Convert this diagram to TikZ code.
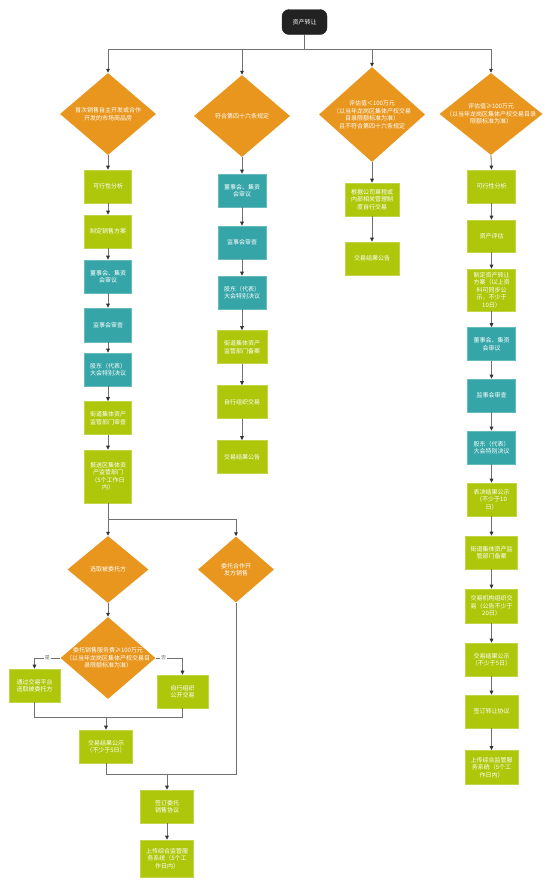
\documentclass[tikz,border=0pt]{standalone}
\usepackage{fontspec}
\setmainfont{Noto Sans CJK SC}
\usetikzlibrary{shapes.geometric,arrows.meta}
\definecolor{org}{HTML}{E8961E}
\definecolor{lim}{HTML}{AEC70A}
\definecolor{tea}{HTML}{35A5A8}
\definecolor{blk}{HTML}{222222}
\definecolor{lnc}{HTML}{707070}
\definecolor{ahc}{HTML}{333333}
\begin{document}
\begin{tikzpicture}[x=1pt,y=-1pt,font=\fontsize{6}{7.5}\selectfont,
  base/.style={rectangle,text=white,align=center,inner sep=1pt,line width=0.6pt,minimum width=48,minimum height=33},
  lbox/.style={base,fill=lim,draw=lim!75!white},
  tbox/.style={base,fill=tea,draw=tea!75!white},
  dia/.style={diamond,fill=org,inner sep=0pt},
  dtext/.style={text=white,align=center,inner sep=0pt},
  lnk/.style={draw=lnc,line width=0.8pt},
  arr/.style={lnk,-{Triangle[length=4pt,width=3.6pt,color=ahc]}},
  yn/.style={fill=white,text=lnc,inner sep=0.8pt,font=\fontsize{5}{6}\selectfont}]
\useasboundingbox[fill=white] (0,0) rectangle (554,887);

% top
\node[rectangle,rounded corners=7pt,fill=blk,draw=blk,text=white,minimum width=45,minimum height=25] (top) at (304.5,22) {资产转让};
\coordinate (bus) at (0,49);

% diamonds row 1
\node[dia,minimum width=96,minimum height=82,label={[dtext]center:{首次销售自主开发或合作\\开发的市场商品房}}] (d1) at (108,114) {};
\node[dia,minimum width=96,minimum height=82,label={[dtext]center:{符合第四十六条规定}}] (d2) at (242,116) {};
\node[dia,minimum width=106,minimum height=95,label={[dtext]center:{评估值＜100万元\\（以当年龙岗区集体产权交易\\目录限额标准为准）\\且不符合第四十六条规定}}] (d3) at (372,114.5) {};
\node[dia,minimum width=103,minimum height=82,label={[dtext]center:{评估值≥100万元\\（以当年龙岗区集体产权交易目录\\限额标准为准）}}] (d4) at (491,114) {};

\draw[lnk] (top.south) -- (top.south |- bus);
\foreach \d in {d1,d2,d3,d4} \draw[arr] (top.south |- bus) -| (\d.north);

% column 1
\node[lbox,minimum width=47] (b11) at (108,186.5) {可行性分析};
\node[lbox,minimum width=47] (b12) at (108,231.5) {制定销售方案};
\node[tbox,minimum width=47] (b13) at (108,276.5) {董事会、集资\\会审议};
\node[tbox,minimum width=47,minimum height=34] (b14) at (108,325) {监事会审查};
\node[tbox,minimum width=47] (b15) at (108,369.5) {股东（代表）\\大会特别决议};
\node[lbox,minimum width=47] (b16) at (108,418) {街道集体资产\\监管部门审查};
\node[lbox,minimum width=47,minimum height=53] (b17) at (108,476.5) {报送区集体资\\产监管部门\\（5个工作日\\内）};
\draw[arr] (d1.south) -- (b11.north);
\draw[arr] (b11) -- (b12);
\draw[arr] (b12) -- (b13);
\draw[arr] (b13) -- (b14);
\draw[arr] (b14) -- (b15);
\draw[arr] (b15) -- (b16);
\draw[arr] (b16) -- (b17);

% column 2
\node[tbox] (b21) at (242,190.5) {董事会、集资\\会审议};
\node[tbox] (b22) at (242,242.5) {监事会审查};
\node[tbox] (b23) at (242,292.5) {股东（代表）\\大会特别决议};
\node[lbox,minimum width=50] (b24) at (242,347) {街道集体资产\\监管部门备案};
\node[lbox,minimum width=50] (b25) at (242,402) {自行组织交易};
\node[lbox,minimum width=50] (b26) at (242,457) {交易结果公告};
\draw[arr] (d2.south) -- (b21.north);
\draw[arr] (b21) -- (b22);
\draw[arr] (b22) -- (b23);
\draw[arr] (b23) -- (b24);
\draw[arr] (b24) -- (b25);
\draw[arr] (b25) -- (b26);

% column 3
\node[lbox,minimum width=54] (b31) at (372,199.5) {根据公司章程或\\内部相关管理制\\度自行交易};
\node[lbox,minimum width=54] (b32) at (372,258.5) {交易结果公告};
\draw[arr] (d3.south) -- (b31.north);
\draw[arr] (b31) -- (b32);

% column 4
\node[lbox] (b41) at (491.5,186.5) {可行性分析};
\node[lbox,minimum height=32] (b42) at (491.5,236) {资产评估};
\node[lbox,minimum height=42] (b43) at (491.5,290) {制定资产转让\\方案（以上资\\料可同步公\\示，不少于\\10日）};
\node[tbox] (b44) at (491.5,344) {董事会、集资\\会审议};
\node[tbox] (b45) at (491.5,395.5) {监事会审查};
\node[tbox] (b46) at (491.5,447.5) {股东（代表）\\大会特别决议};
\node[lbox,minimum width=49] (b47) at (491.5,499.5) {表决结果公示\\（不少于10\\日）};
\node[lbox,minimum width=52] (b48) at (491.5,552.5) {街道集体资产监\\管部门备案};
\node[lbox,minimum width=52,minimum height=34] (b49) at (491.5,606) {交易机构组织交\\易（公告不少于\\20日）};
\node[lbox,minimum width=52] (b410) at (491.5,659.5) {交易结果公示\\（不少于5日）};
\node[lbox,minimum width=53] (b411) at (491.5,711.5) {签订转让协议};
\node[lbox,minimum width=53,minimum height=34] (b412) at (491.5,767.5) {上传综合监管服\\务系统（5个工\\作日内）};
\draw[arr] (d4.south) -- (b41.north);
\draw[arr] (b41) -- (b42);
\draw[arr] (b42) -- (b43);
\draw[arr] (b43) -- (b44);
\draw[arr] (b44) -- (b45);
\draw[arr] (b45) -- (b46);
\draw[arr] (b46) -- (b47);
\draw[arr] (b47) -- (b48);
\draw[arr] (b48) -- (b49);
\draw[arr] (b49) -- (b410);
\draw[arr] (b410) -- (b411);
\draw[arr] (b411) -- (b412);

% lower left
\node[dia,minimum width=81,minimum height=67,label={[dtext]center:{选取被委托方}}] (d5) at (108,569.5) {};
\node[dia,minimum width=76,minimum height=66,label={[dtext]center:{委托合作开\\发方销售}}] (d6) at (236,569.5) {};
\coordinate (split) at (108,519);
\draw[arr] (b17.south) -- (d5.north);
\draw[arr] (split) -| (d6.north);

\node[dia,minimum width=95,minimum height=82,label={[dtext]center:{委托销售服务费≥100万元\\（以当年龙岗区集体产权交易目\\录限额标准为准）}}] (d7) at (108,658) {};
\draw[arr] (d5.south) -- (d7.north);

\node[lbox,minimum width=51] (bl) at (34.5,685.5) {通过交易平台\\选取被委托方};
\node[lbox,minimum width=51] (br) at (182.5,691.5) {自行组织\\公开交易};
\draw[arr] (d7.west) -| node[yn,pos=0.25] {是} (bl.north);
\draw[arr] (d7.east) -| node[yn,pos=0.15] {否} (br.north);

\node[lbox,minimum width=53] (res1) at (106,746.5) {交易结果公示\\（不少于5日）};
\coordinate (m1) at (106,717);
\draw[lnk] (bl.south) |- (m1) -| (br.south);
\draw[arr] (m1) -- (res1.north);

\node[lbox,minimum width=53] (sign) at (167,806.5) {签订委托\\销售协议};
\node[lbox,minimum width=53,minimum height=37] (up) at (167,858.5) {上传综合监管服\\务系统（5个工\\作日内）};
\coordinate (m2) at (167,774);
\draw[lnk] (res1.south) |- (m2) -| (d6.south);
\draw[arr] (m2) -- (sign.north);
\draw[arr] (sign) -- (up);
\end{tikzpicture}
\end{document}
